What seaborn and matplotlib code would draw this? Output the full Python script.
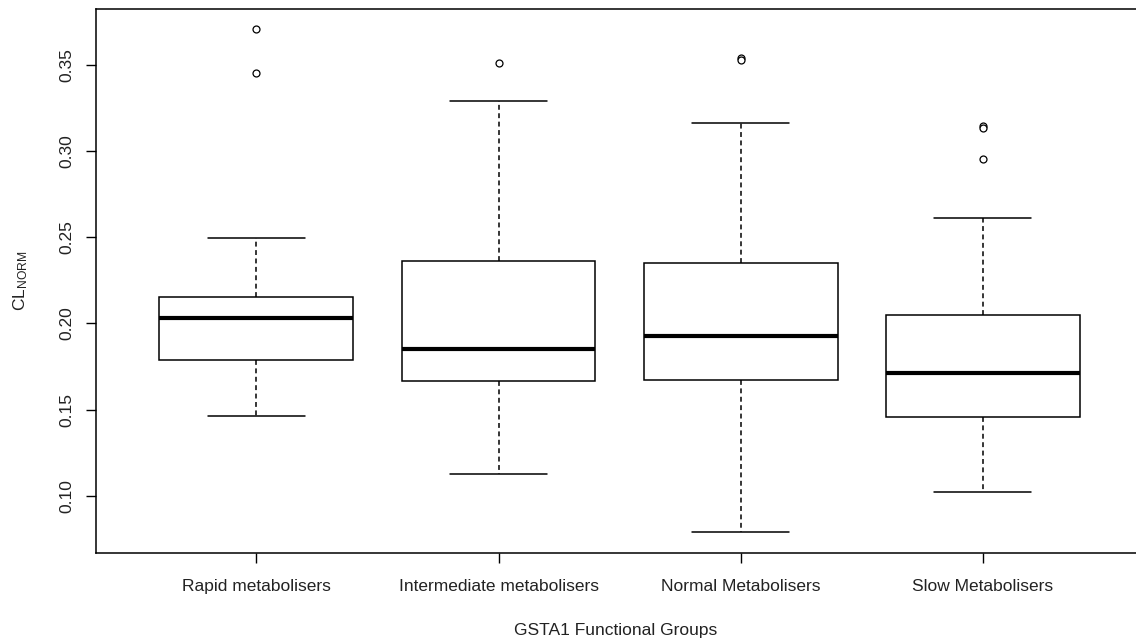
import matplotlib
matplotlib.use("Agg")
import matplotlib.pyplot as plt
import seaborn as sns
import pandas as pd

# ---- data ----
groups = ["Rapid metabolisers", "Intermediate metabolisers",
          "Normal Metabolisers", "Slow Metabolisers"]
lower_whisker = [0.1463, 0.1124, 0.0789, 0.1021]
q1 = [0.1788, 0.1666, 0.1674, 0.1455]
median = [0.2032, 0.1850, 0.1927, 0.1713]
q3 = [0.2154, 0.2365, 0.2353, 0.2048]
upper_whisker = [0.2494, 0.3294, 0.3166, 0.2613]
outliers = [
    [0.3710, 0.3455],
    [0.3515],
    [0.3539, 0.3530],
    [0.3147, 0.3135, 0.2954],
]
y_ticks = [0.10, 0.15, 0.20, 0.25, 0.30, 0.35]
y_tick_labels = ["0.10", "0.15", "0.20", "0.25", "0.30", "0.35"]

# five-number summary per group -> long table for seaborn
rows = []
for g, a, b, c, d, e in zip(groups, lower_whisker, q1, median, q3, upper_whisker):
    for v in (a, b, c, d, e):
        rows.append({"group": g, "value": v})
box_df = pd.DataFrame(rows)
out_df = pd.DataFrame([{"group": g, "value": v}
                       for g, vals in zip(groups, outliers) for v in vals])

sns.set_theme(style="white")
plt.rcParams["font.family"] = ["Liberation Sans", "DejaVu Sans"]
plt.rcParams["mathtext.default"] = "regular"

fig = plt.figure(figsize=(11.36, 6.38), dpi=100)
ax = fig.add_axes([96 / 1136, 85 / 638, 1 - 96 / 1136, 544 / 638])

sns.boxplot(data=box_df, x="group", y="value", order=groups, ax=ax,
            color="white", linecolor="black", linewidth=1.1, width=0.8,
            showfliers=False,
            medianprops={"linewidth": 3.0, "color": "black"},
            whiskerprops={"linestyle": (0, (3.2, 2.3)), "color": "black"},
            capprops={"color": "black"},
            boxprops={"edgecolor": "black"})
sns.stripplot(data=out_df, x="group", y="value", order=groups, ax=ax,
              jitter=False, color="white", edgecolor="black", linewidth=0.9,
              size=5, marker="o", zorder=5)

ax.set_xlim(-0.662, 3.632)
ax.set_ylim(0.0667, 0.3826)
ax.set_yticks(y_ticks)
ax.set_yticklabels(y_tick_labels, rotation=90, va="center")
ax.tick_params(axis="both", which="both", direction="out", length=7,
               width=1, color="black", labelsize=12.5, labelcolor="#222222",
               left=True, bottom=True)
ax.tick_params(axis="y", pad=8.5)
ax.tick_params(axis="x", pad=11.5)

for side in ("left", "top", "bottom"):
    ax.spines[side].set_visible(True)
    ax.spines[side].set_color("black")
    ax.spines[side].set_linewidth(1.1)
ax.spines["right"].set_visible(False)

ax.set_xlabel("GSTA1 Functional Groups", fontsize=12.5, color="#222222", labelpad=21)
ax.set_ylabel("CL$_{NORM}$", fontsize=12.5, color="#222222", labelpad=21)
ax.grid(False)

fig.savefig("out.png", dpi=100)
